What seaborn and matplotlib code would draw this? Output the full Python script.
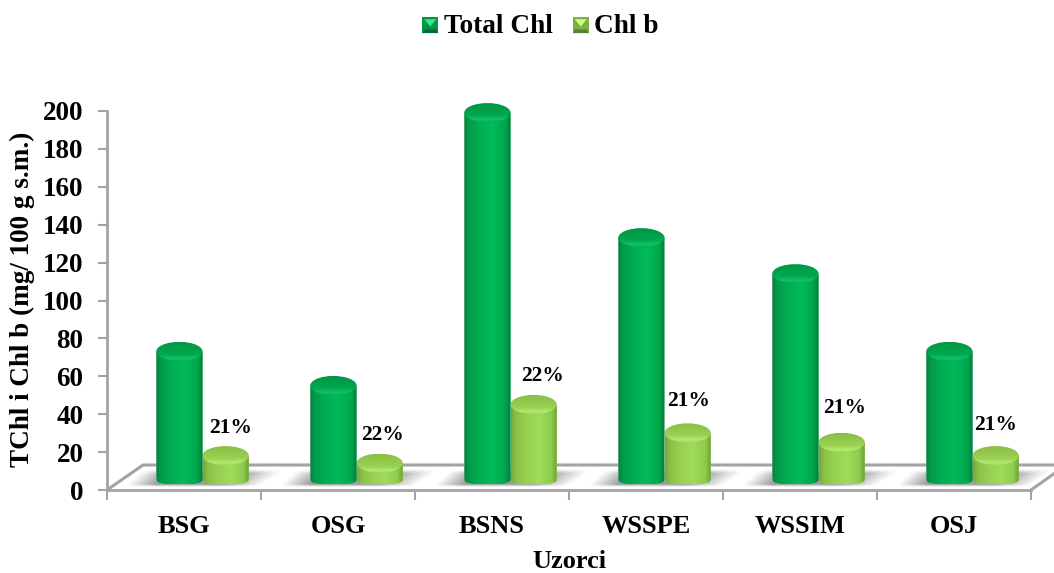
import numpy as np
import pandas as pd
import matplotlib
matplotlib.use("Agg")
import matplotlib.pyplot as plt
import seaborn as sns
from matplotlib.colors import LinearSegmentedColormap
from matplotlib.legend_handler import HandlerBase
from matplotlib.patches import Ellipse, Patch, Polygon

# Pigment content per sample
samples = ["BSG", "OSG", "BSNS", "WSSPE", "WSSIM", "OSJ"]
total_chl = [70, 52, 196, 130, 111, 70]
chl_b = [15, 11, 42, 27, 22, 15]
chl_b_share = ["21%", "22%", "22%", "21%", "21%", "21%"]
series_names = ["Total Chl", "Chl b"]

W, H = 1054, 573
SCALE = 379 / 200  # pixels per value unit
sns.set_theme(style="white")
plt.rcParams["font.family"] = ["Liberation Serif", "DejaVu Serif"]
plt.rcParams["font.weight"] = "bold"

GRAY = "#a3a3a3"
fig = plt.figure(figsize=(W / 100, H / 100), dpi=100, facecolor="white")


def axes_px(x0, y0, x1, y1, **kw):
    return fig.add_axes([x0 / W, 1 - y1 / H, (x1 - x0) / W, (y1 - y0) / H], **kw)


# Floor of the 3D plot, in figure pixels
deco = axes_px(0, 0, W, H, zorder=0)
deco.set_xlim(0, W)
deco.set_ylim(H, 0)
deco.axis("off")
deco.plot([107, 143, W], [490, 465, 465], color=GRAY, lw=2.2, solid_joinstyle="miter")
deco.plot([1031, W + 1], [490, 473], color=GRAY, lw=2.2)

# Value axis and category axis
ax = axes_px(107, 111, 1031, 490, zorder=1)
ax.patch.set_alpha(0)
ax.set_xlim(0, len(samples))
ax.set_ylim(0, 200)
ax.set_yticks(np.arange(0, 201, 20))
ax.set_xticks(np.arange(0, len(samples) + 1))
ax.set_xticks(np.arange(len(samples)) + 0.5, samples, minor=True)
ax.set_xticklabels([])
sns.despine(ax=ax)
for side in ("left", "bottom"):
    ax.spines[side].set_color(GRAY)
    ax.spines[side].set_linewidth(2.0)
ax.tick_params(axis="y", which="major", length=6.5, width=1.5, color=GRAY, left=True,
               labelsize=19.5, labelcolor="black", pad=10.5)
ax.tick_params(axis="x", which="major", length=7, width=1.5, color=GRAY, bottom=True)
ax.tick_params(axis="x", which="minor", length=0, labelsize=19, labelcolor="black", pad=18)
ax.set_ylabel("TChl i Chl b (mg/ 100 g s.m.)", fontsize=19.5, fontweight="bold", color="black")
ax.set_xlabel("Uzorci", fontsize=19, fontweight="bold", color="black", labelpad=8.5)
ax.yaxis.set_label_coords(-72 / 924, 0.502)

# Cylinders stand slightly in from the front edge of the floor
base_y = 484
top_y = 90
shift = 18.5
bars_ax = axes_px(107 + shift, top_y, 1031 + shift, base_y, zorder=2)
bars_ax.patch.set_alpha(0)

df = pd.DataFrame({
    "sample": samples * 2,
    "value": total_chl + chl_b,
    "series": [series_names[0]] * len(samples) + [series_names[1]] * len(samples),
})
palette = {series_names[0]: "#00b050", series_names[1]: "#92d050"}
sns.barplot(data=df, x="sample", y="value", hue="series", hue_order=series_names,
            palette=palette, width=0.6, gap=0, dodge=True, legend=False,
            saturation=1, ax=bars_ax)
bars_ax.set_xlim(-0.5, len(samples) - 0.5)
bars_ax.set_ylim(0, (base_y - top_y) / SCALE)
bars_ax.axis("off")

body_maps = [
    LinearSegmentedColormap.from_list("g", [(0, "#0a7f3e"), (0.1, "#039a4b"), (0.3, "#00ab52"), (0.6, "#00bb59"),
                                            (0.88, "#00a64d"), (1, "#087a3a")]),
    LinearSegmentedColormap.from_list("l", [(0, "#76a83a"), (0.1, "#89c046"), (0.3, "#96d050"), (0.6, "#9fdc5a"),
                                            (0.86, "#8fcb4d"), (1, "#6d9a34")]),
]
cap_maps = [
    LinearSegmentedColormap.from_list("gc", [(0, "#009646"), (0.65, "#00a84e"), (0.88, "#10c46c"), (1, "#00b055")]),
    LinearSegmentedColormap.from_list("lc", [(0, "#8abd45"), (0.65, "#9ad252"), (0.88, "#b4ea72"), (1, "#a0dc5c")]),
]
cap_h = 9.5 / SCALE        # semi-height of the top ellipse
foot_h = 5.0 / SCALE       # semi-height of the lower rim
foot_y = 4.0 / SCALE       # rim centre above the bar's baseline

n = len(samples)
gradient = np.linspace(0, 1, 200)[None, :]
vertical = np.linspace(0, 1, 100)[:, None]
bars = list(bars_ax.patches)[:2 * n]
for i, bar in enumerate(bars):
    kind = i // n
    x0, w, h = bar.get_x(), bar.get_width(), bar.get_height()
    cx = x0 + w / 2
    # Cylinder side: straight walls closed by a half ellipse at the foot
    t = np.linspace(np.pi, 2 * np.pi, 40)
    foot = np.c_[cx + w / 2 * np.cos(t), foot_y + foot_h * np.sin(t)]
    verts = np.vstack([[[x0, h]], foot, [[x0 + w, h]], [[x0, h]]])
    clip = Polygon(verts, closed=True, transform=bars_ax.transData, fc="none", ec="none")
    bars_ax.add_patch(clip)
    bar.set_clip_path(clip)
    img = bars_ax.imshow(gradient, cmap=body_maps[kind], extent=(x0, x0 + w, -1.5, h), aspect="auto",
                         origin="lower", zorder=3 + kind * 2, interpolation="bilinear")
    img.set_clip_path(clip)
    cap = Ellipse((cx, h), w, 2 * cap_h, transform=bars_ax.transData, fc="none", ec="none", clip_on=False)
    bars_ax.add_patch(cap)
    cap_img = bars_ax.imshow(vertical[::-1], cmap=cap_maps[kind],
                             extent=(x0, x0 + w, h - cap_h, h + cap_h), aspect="auto", origin="lower",
                             zorder=3.5 + kind * 2, interpolation="bilinear")
    cap_img.set_clip_path(cap)
bars_ax.set_xlim(-0.5, len(samples) - 0.5)
bars_ax.set_ylim(0, (base_y - top_y) / SCALE)

# Percent share of Chl b above each short cylinder
nudges = [(5, 28), (3, 28), (9, 28), (1, 32), (3, 34), (0, 31)]
for bar, text, (dx, dy) in zip(bars[n:], chl_b_share, nudges):
    bars_ax.annotate(text, (bar.get_x() + bar.get_width() / 2, bar.get_height()),
                     xytext=(dx * 0.72, dy * 0.72), textcoords="offset points",
                     ha="center", va="center", fontsize=15.5, fontweight="bold", color="black", zorder=9)

# Soft shadows on the floor behind each pair of cylinders
for green, light in zip(bars[:n], bars[n:]):
    left = bars_ax.transData.transform((green.get_x(), 0))[0]
    right = bars_ax.transData.transform((light.get_x() + light.get_width(), 0))[0]
    x0, x1 = left - 36, right + 40
    y0, y1 = 469, 487
    xs = np.linspace(x0, x1, 220)
    ys = np.linspace(0, 1, 40)
    X, Y = np.meshgrid(xs, ys)
    a = np.clip((X - (left - 12 - 20 * Y)) / 30, 0, 1)
    b = np.clip(((right + 36 - 26 * Y) - X) / 38, 0, 1)
    fade = np.clip((1 - Y) / 0.15, 0, 1) * np.clip(Y / 0.25, 0, 1)
    rgba = np.zeros(X.shape + (4,))
    rgba[..., :3] = 0.45
    rgba[..., 3] = 0.72 * a * b * fade
    deco.imshow(rgba, extent=(x0, x1, y1, y0), aspect="auto", interpolation="bilinear", zorder=1)
deco.set_xlim(0, W)
deco.set_ylim(H, 0)


# Legend keys with a small bevelled look
class BevelKey(HandlerBase):
    def create_artists(self, legend, orig, xd, yd, width, height, fontsize, trans):
        s = min(width, height)
        x, y = -xd, -yd - s * 0.08
        c = orig.get_facecolor()
        dark = tuple(v * 0.62 for v in c[:3])
        mid = tuple(v * 0.85 for v in c[:3])
        bright = tuple(min(1, v + 0.22) for v in c[:3])
        e = s * 0.12
        faces = [
            ([(x, y), (x + s, y), (x + s, y + s), (x, y + s)], mid),
            ([(x, y), (x + s, y), (x + s - e, y + 2 * e), (x + e, y + 2 * e)], dark),
            ([(x + e, y + s - e), (x + s - e, y + s - e), (x + s / 2, y + s * 0.42)], bright),
        ]
        return [Polygon(p, closed=True, fc=col, ec="none", transform=trans) for p, col in faces]


handles = [Patch(facecolor=palette[name]) for name in series_names]
fig.legend(handles, series_names, loc="center", bbox_to_anchor=(540.5 / W, 1 - 26.5 / H), ncol=2,
           frameon=False, handler_map={Patch: BevelKey()}, labelcolor="black",
           handlelength=0.58, handleheight=0.58, handletextpad=0.2, columnspacing=0.75,
           prop={"family": "Liberation Serif", "weight": "bold", "size": 19.6})

fig.savefig("out.png", dpi=100, facecolor="white")
